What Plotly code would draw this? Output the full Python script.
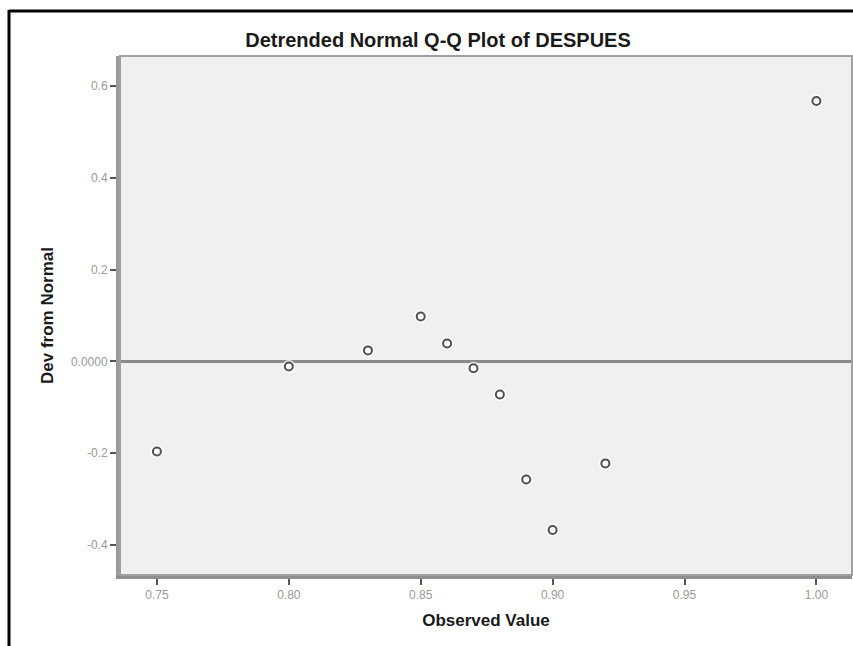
import plotly.graph_objects as go

# Data
observed_value = [0.75, 0.80, 0.83, 0.85, 0.86, 0.87, 0.88, 0.89, 0.90, 0.92, 1.00]
dev_from_normal = [-0.196, -0.011, 0.024, 0.098, 0.039, -0.015, -0.072, -0.257, -0.367, -0.222, 0.567]

x_tick_vals = [0.75, 0.80, 0.85, 0.90, 0.95, 1.00]
x_tick_text = ["0.75", "0.80", "0.85", "0.90", "0.95", "1.00"]
y_tick_vals = [-0.4, -0.2, 0.0, 0.2, 0.4, 0.6]
y_tick_text = ["-0.4", "-0.2", "0.0000", "0.2", "0.4", "0.6"]

W, H = 853, 646
L, R, T, B = 120, 1, 56, 71
plot_w = W - L - R
plot_h = H - T - B

fig = go.Figure()

# white halo behind markers
fig.add_trace(go.Scatter(
    x=observed_value, y=dev_from_normal, mode="markers",
    marker=dict(symbol="circle", size=13, color="rgba(255,255,255,0.85)", line=dict(width=0)),
    hoverinfo="skip", showlegend=False,
))
fig.add_trace(go.Scatter(
    x=observed_value, y=dev_from_normal, mode="markers",
    marker=dict(symbol="circle-open", size=8, color="#505050", line=dict(width=2, color="#505050")),
    showlegend=False,
))

# reference line at 0
fig.add_shape(type="line", xref="paper", yref="y", x0=0, x1=1, y0=0, y1=0,
              line=dict(color="#8a8a8a", width=3), layer="below")

# plot frame (thin top/right)
fig.add_shape(type="rect", xref="paper", yref="paper", x0=0, x1=1, y0=0, y1=1,
              line=dict(color="#a0a0a0", width=2), layer="above")

# outer black border lines (top and left)
fig.add_shape(type="line", xref="paper", yref="paper",
              x0=(9 - L) / plot_w, x1=(W - L) / plot_w + 0.01,
              y0=1 + (T - 11) / plot_h, y1=1 + (T - 11) / plot_h,
              line=dict(color="black", width=3))
fig.add_shape(type="line", xref="paper", yref="paper",
              x0=(9 - L) / plot_w, x1=(9 - L) / plot_w,
              y0=1 + (T - 10) / plot_h, y1=-B / plot_h - 0.01,
              line=dict(color="black", width=3))

font_family = "Liberation Sans, Arial, sans-serif"

fig.update_layout(
    width=W, height=H,
    margin=dict(l=L, r=R, t=T, b=B),
    paper_bgcolor="white",
    plot_bgcolor="#f0f0f0",
    font=dict(family=font_family, color="#222"),
    title=dict(text="<b>Detrended Normal Q-Q Plot of DESPUES</b>", x=(438 - L) / plot_w, xref="paper",
               xanchor="center", y=1 - 40 / H, yanchor="middle",
               font=dict(size=20, color="#1a1a1a", family=font_family)),
    showlegend=False,
)

fig.update_xaxes(
    range=[0.736, 1.0135],
    tickvals=x_tick_vals, ticktext=x_tick_text,
    ticks="outside", ticklen=6, tickwidth=2, tickcolor="#555",
    tickfont=dict(size=12, color="#999"),
    showgrid=False, zeroline=False,
    showline=True, linecolor="#8f8f8f", linewidth=4,
    title=dict(text="<b>Observed Value</b>", font=dict(size=17, color="#1a1a1a"), standoff=14),
)
fig.update_yaxes(
    range=[-0.465, 0.665],
    tickvals=y_tick_vals, ticktext=y_tick_text,
    ticks="outside", ticklen=6, tickwidth=2, tickcolor="#555",
    tickfont=dict(size=12, color="#999"),
    showgrid=False, zeroline=False,
    showline=True, linecolor="#9a9a9a", linewidth=4,
    title=dict(text="<b>Dev from Normal</b>", font=dict(size=17, color="#1a1a1a"), standoff=14),
)

fig.write_html("out.html")
